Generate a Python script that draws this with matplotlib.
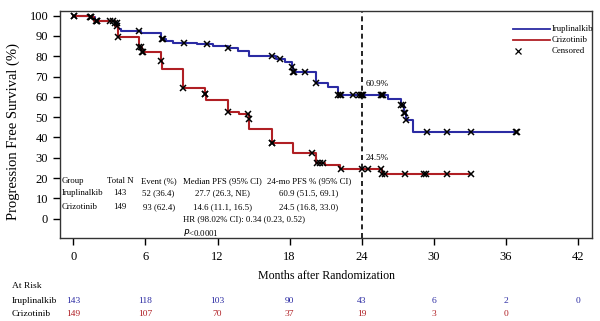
import numpy as np
import matplotlib
matplotlib.use("Agg")
import matplotlib.pyplot as plt
import matplotlib.transforms as mtransforms

plt.rcParams['font.family'] = ['Liberation Serif', 'DejaVu Serif']

# Kaplan-Meier steps: (month, PFS % after the step)
iru_t = [0, 1.4, 1.8, 3.5, 3.75, 4.0, 5.6, 7.3, 7.7, 8.3, 10.3, 11.65, 12.9, 13.7,
         14.6, 16.9, 17.6, 18.2, 18.3, 20.2, 21.2, 22.0, 26.2, 27.3, 27.5, 27.7, 28.3, 36.9]
iru_s = [100, 99.2, 97.2, 96.2, 93.3, 92.6, 91.3, 88.6, 87.4, 86.6, 86.0, 85.2, 84.0, 82.6,
         80.0, 78.6, 77.3, 74.5, 72.2, 66.8, 64.7, 60.9, 58.8, 56.0, 52.0, 48.6, 42.6, 42.6]
iru_cens = [0.1, 1.4, 1.5, 1.95, 3.05, 3.5, 3.6, 5.5, 7.35, 7.45, 9.2, 11.1, 12.9, 16.5,
            17.2, 18.2, 18.3, 18.4, 19.3, 20.2, 22.05, 22.15, 22.3, 23.3, 23.8, 23.9, 24.0,
            24.1, 25.6, 25.7, 25.8, 27.3, 27.4, 27.5, 27.6, 27.7, 29.4, 31.1, 33.1, 36.8, 36.9]

criz_t = [0, 1.4, 1.75, 3.5, 3.7, 5.5, 5.7, 7.3, 7.4, 9.1, 10.95, 11.05, 12.9, 13.8,
          14.6, 14.65, 16.5, 18.3, 20.2, 20.9, 22.2, 25.7, 33.1]
criz_s = [100, 99.2, 97.4, 95.0, 89.3, 84.6, 82.3, 77.5, 73.7, 64.5, 61.5, 58.7, 52.6, 51.6,
          49.0, 44.0, 37.5, 32.2, 27.3, 26.5, 24.5, 22.0, 22.0]
criz_cens = [0.1, 1.5, 1.9, 2.0, 3.3, 3.6, 3.7, 5.5, 5.6, 5.7, 5.8, 7.3, 9.1, 10.95, 11.0,
             12.9, 14.5, 14.6, 16.5, 16.55, 19.9, 20.25, 20.5, 20.8, 22.3, 24.0, 24.5,
             25.6, 25.7, 25.9, 27.6, 29.2, 29.3, 31.1, 33.1]

months = [0, 6, 12, 18, 24, 30, 36, 42]
risk_iru = [143, 118, 103, 90, 43, 6, 2, 0]
risk_criz = [149, 107, 70, 37, 19, 3, 0]

table_rows = [
    ["Group", "Total N", "Event (%)", "Median PFS (95% CI)", "24-mo PFS % (95% CI)"],
    ["Iruplinalkib", "143", "52 (36.4)", "27.7 (26.3, NE)", "60.9 (51.5, 69.1)"],
    ["Crizotinib", "149", "93 (62.4)", "14.6 (11.1, 16.5)", "24.5 (16.8, 33.0)"],
]

blue = '#2b2ba3'
red = '#b01f24'


def km_value(t_steps, s_steps, t):
    i = np.searchsorted(t_steps, t, side='right') - 1
    return s_steps[max(i, 0)]


fig = plt.figure(figsize=(6, 3.21), dpi=100)
ax = fig.add_axes([0.1, 0.2586, 0.8867, 0.7071])

ax.step(iru_t, iru_s, where='post', color=blue, lw=1.5)
ax.step(criz_t, criz_s, where='post', color=red, lw=1.5)
ax.plot(iru_cens, [km_value(iru_t, iru_s, t) for t in iru_cens], 'x',
        color='black', ms=5, mew=1.1)
ax.plot(criz_cens, [km_value(criz_t, criz_s, t) for t in criz_cens], 'x',
        color='black', ms=5, mew=1.1)

ax.axvline(24, color='black', lw=1.2, ls=(0, (3, 2.2)))
ax.text(24.3, 66.3, "60.9%", fontsize=6.5, va='center')
ax.text(24.3, 29.7, "24.5%", fontsize=6.5, va='center')

ax.set_xlim(-1.1, 43.15)
ax.set_ylim(-9.5, 102.3)
ax.set_xticks(months)
ax.set_yticks(range(0, 101, 10))
ax.tick_params(labelsize=9, length=5, width=1, direction='out')
ax.tick_params(axis='x', pad=4.5)
for sp in ax.spines.values():
    sp.set_color('#333333')
    sp.set_linewidth(1.0)

ax.set_xlabel("Months after Randomization", fontsize=8.6, labelpad=5)
ax.set_ylabel("Progression Free Survival (%)", fontsize=10.5)
ax.yaxis.set_label_coords(-0.075, 0.467)

# summary table inside the plot
col_x = [-0.97, 3.9, 7.1, 12.4, 19.6]
row_y = [18.6, 12.5, 5.9]
for r, row in enumerate(table_rows):
    for c, txt in enumerate(row):
        ax.text(col_x[c], row_y[r], txt, fontsize=6.3,
                ha='left' if c == 0 else 'center', va='center')
ax.text(9.15, -0.15, "HR (98.02% CI): 0.34 (0.23, 0.52)", fontsize=6.3, va='center')
ax.text(9.15, -6.7, r"$\it{P}$<0.0001", fontsize=6.3, va='center')

# legend drawn in axes fraction
leg_y = [0.921, 0.872, 0.824]
ax.plot([0.852, 0.921], [leg_y[0]] * 2, color=blue, lw=1.3, transform=ax.transAxes)
ax.plot([0.852, 0.921], [leg_y[1]] * 2, color=red, lw=1.3, transform=ax.transAxes)
ax.plot([0.861], [leg_y[2]], 'x', color='black', ms=4.5, mew=0.9, transform=ax.transAxes)
for y, lab in zip(leg_y, ["Iruplinalkib", "Crizotinib", "Censored"]):
    ax.text(0.924, y, lab, fontsize=6.3, va='center', transform=ax.transAxes)

# number at risk
trans = mtransforms.blended_transform_factory(ax.transData, fig.transFigure)
fig.text(0.02, 0.109, "At Risk", fontsize=6.8, va='center')
fig.text(0.02, 0.0632, "Iruplinalkib", fontsize=6.8, va='center')
fig.text(0.02, 0.0218, "Crizotinib", fontsize=6.8, va='center')
for m, n in zip(months, risk_iru):
    ax.text(m, 0.0632, str(n), transform=trans, fontsize=6.8, color=blue,
            ha='center', va='center')
for m, n in zip(months, risk_criz):
    ax.text(m, 0.0218, str(n), transform=trans, fontsize=6.8, color=red,
            ha='center', va='center')

plt.savefig('out.png', dpi=100)
